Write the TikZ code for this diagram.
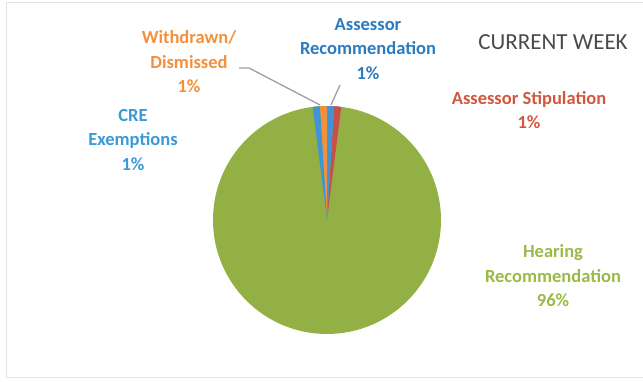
\documentclass[tikz,border=0pt]{standalone}
\usepackage{fontspec}
\setmainfont{Carlito}
\definecolor{pgreen}{HTML}{93B045}
\definecolor{pred}{HTML}{C8504A}
\definecolor{pblue}{HTML}{3F93D6}
\definecolor{porange}{HTML}{F2913D}
\definecolor{tblue}{HTML}{2B7BC0}
\definecolor{tcre}{HTML}{3A9AD6}
\definecolor{tgreen}{HTML}{9AB947}
\definecolor{tred}{HTML}{D2573F}
\definecolor{ttitle}{HTML}{4A4A4A}
\begin{document}
\begin{tikzpicture}[x=1pt,y=1pt,
  lab/.style={align=center,font=\fontsize{18.5}{24.5}\selectfont\bfseries,inner sep=0pt},
  leader/.style={draw=gray!75,line width=1.3pt},
  frame/.style={draw=gray!22,line width=1pt}]
\useasboundingbox (0,0) rectangle (643,382);
% chart frame
\draw[frame] (643,379) -- (6,379) -- (6,4) -- (643,4);
% pie
\coordinate (c) at (327,162);
\def\R{114}
\fill[pgreen] (c) circle[radius=\R];
\fill[pred] (c) -- ++(82.8:\R) arc[start angle=82.8,end angle=86.4,radius=\R] -- cycle;
\fill[pblue] (c) -- ++(86.4:\R) arc[start angle=86.4,end angle=90,radius=\R] -- cycle;
\fill[porange] (c) -- ++(90:\R) arc[start angle=90,end angle=93.6,radius=\R] -- cycle;
\fill[pblue] (c) -- ++(93.6:\R) arc[start angle=93.6,end angle=97.2,radius=\R] -- cycle;
% labels
\node[lab,text=porange] (wd) at (189,320) {Withdrawn/\\Dismissed\\1\%};
\node[lab,text=tblue] (ar) at (368,333) {Assessor\\Recommendation\\1\%};
\node[inner sep=0pt,text=ttitle,font=\fontsize{23}{27}\selectfont] (title) at (553,340) {CURRENT WEEK};
\node[lab,text=tred] (as) at (529,272) {Assessor Stipulation\\1\%};
\node[lab,text=tcre] (cre) at (133,242) {CRE\\Exemptions\\1\%};
\node[lab,text=tgreen] (hr) at (553,106) {Hearing\\Recommendation\\96\%};
% leader lines
\coordinate (wdA) at (239,314);
\coordinate (wdB) at (249,314);
\coordinate (wdC) at (320,277);
\coordinate (arA) at (340,297);
\coordinate (arB) at (331,277);
\draw[leader] (wdA) -- (wdB) -- (wdC);
\draw[leader] (arA) -- (arB);
\end{tikzpicture}
\end{document}
